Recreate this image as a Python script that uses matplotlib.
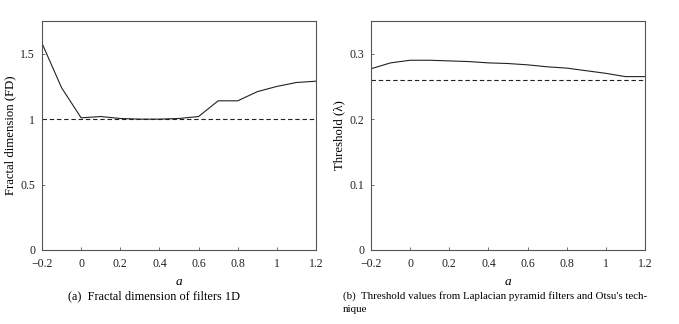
import numpy as np
import matplotlib
matplotlib.use('Agg')
import matplotlib.pyplot as plt

plt.rcParams['font.family'] = ['Liberation Serif', 'DejaVu Serif']

#x values shared by both panels
a_values = [-0.2, -0.1, 0.0, 0.1, 0.2, 0.3, 0.4, 0.5, 0.6, 0.7, 0.8, 0.9, 1.0, 1.1, 1.2]

#fractal dimension of filters 1D
fractal_dim = [1.58, 1.24, 1.01, 1.02, 1.005, 1.0, 1.0, 1.005, 1.02, 1.14, 1.14, 1.21, 1.25, 1.28, 1.29]
fractal_ref = 1.0

#threshold values from Laplacian pyramid filters
threshold = [0.277, 0.286, 0.290, 0.290, 0.289, 0.288, 0.286, 0.285, 0.283, 0.280, 0.278, 0.274, 0.270, 0.265, 0.265]
otsu_ref = 0.26

x_ticks = [-0.2, 0, 0.2, 0.4, 0.6, 0.8, 1, 1.2]
x_tick_labels = ['\u22120.2', '0', '0.2', '0.4', '0.6', '0.8', '1', '1.2']

fig = plt.figure(figsize=(6.79, 3.24), dpi=100)
W, H = 679.0, 324.0

def styleAxes(ax):
    for side in ['top', 'right', 'left', 'bottom']:
        ax.spines[side].set_color('#555555')
        ax.spines[side].set_linewidth(0.8)
    ax.tick_params(direction='in', length=2.5, width=0.6, colors='#555555', labelsize=8.5, labelcolor='#222222')
    ax.tick_params(axis='x', pad=6)
    ax.tick_params(axis='y', pad=5)
    ax.set_xlim(-0.2, 1.2)
    ax.set_xticks(x_ticks)
    ax.set_xticklabels(x_tick_labels)
    ax.set_xlabel('a', fontsize=9.5, style='italic', labelpad=4)

#left panel
ax1 = fig.add_axes([42 / W, 1 - 250 / H, (316 - 42) / W, (250 - 21) / H])
ax1.plot(a_values, fractal_dim, color='#222222', linewidth=0.8)
ax1.axhline(fractal_ref, color='#222222', linewidth=0.8, linestyle=(0, (4, 2.5)))
ax1.set_ylim(0, 1.75)
ax1.set_yticks([0, 0.5, 1, 1.5])
ax1.set_yticklabels(['0', '0.5', '1', '1.5'])
ax1.set_ylabel('Fractal dimension (FD)', fontsize=9.2, labelpad=3)
styleAxes(ax1)

#right panel
ax2 = fig.add_axes([371 / W, 1 - 250 / H, (645 - 371) / W, (250 - 21) / H])
ax2.plot(a_values, threshold, color='#222222', linewidth=0.8)
ax2.axhline(otsu_ref, color='#222222', linewidth=0.8, linestyle=(0, (4, 2.5)))
ax2.set_ylim(0, 0.35)
ax2.set_yticks([0, 0.1, 0.2, 0.3])
ax2.set_yticklabels(['0', '0.1', '0.2', '0.3'])
ax2.set_ylabel('Threshold (\u03bb)', fontsize=9.2, labelpad=3)
styleAxes(ax2)

#captions
fig.text(68 / W, 1 - 296 / H, '(a)  Fractal dimension of filters 1D', fontsize=8.8, va='center', ha='left')
fig.text(343 / W, 1 - 296 / H, "(b)  Threshold values from Laplacian pyramid filters and Otsu's tech-", fontsize=7.8, va='center', ha='left')
fig.text(343 / W, 1 - 309 / H, 'nique', fontsize=7.8, va='center', ha='left')

fig.savefig('out.png', dpi=100)
